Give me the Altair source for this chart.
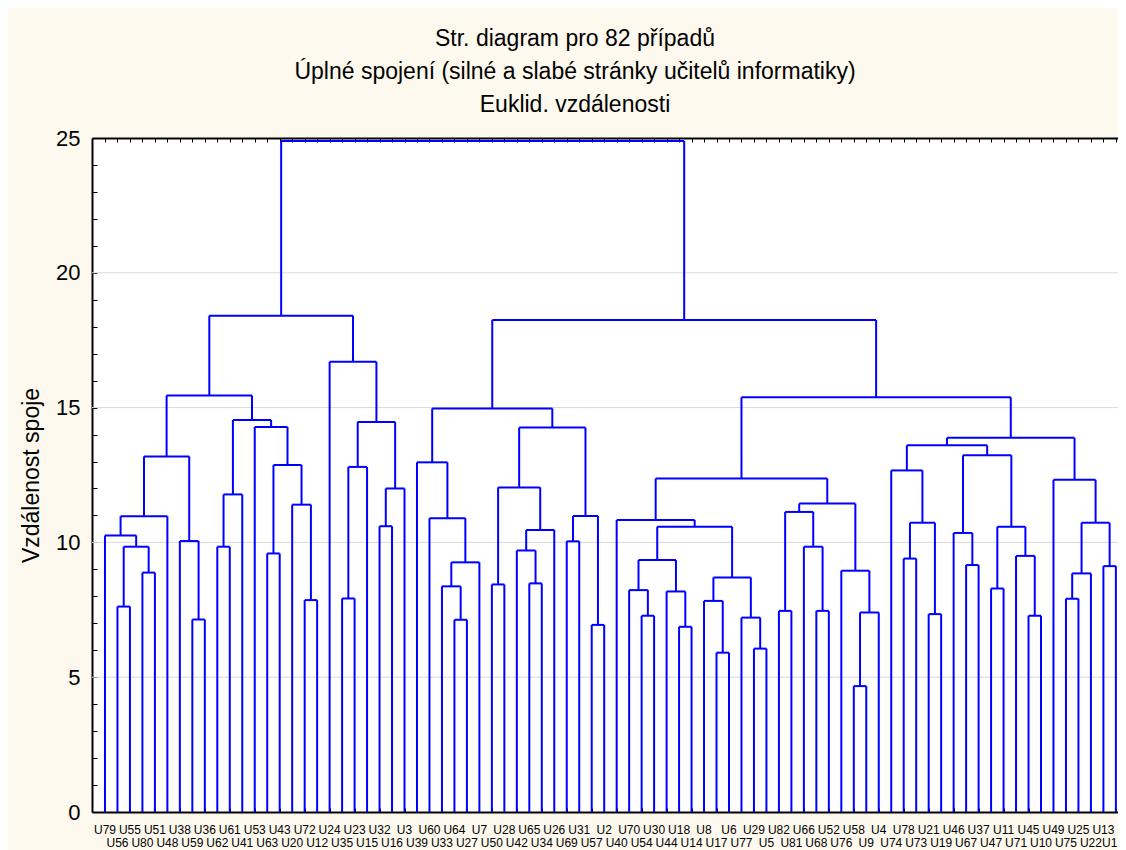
import altair as alt
import pandas as pd

# ---- data ----
leaf_order = ["U79","U56","U55","U80","U51","U48","U38","U59","U36","U62","U61","U41",
              "U53","U63","U43","U20","U72","U12","U24","U35","U23","U15","U32","U16",
              "U3","U39","U60","U33","U64","U27","U7","U50","U28","U42","U65","U34",
              "U26","U69","U31","U57","U2","U40","U70","U54","U30","U44","U18","U14",
              "U8","U17","U6","U77","U29","U5","U82","U81","U66","U68","U52","U76",
              "U58","U9","U4","U74","U78","U73","U21","U19","U46","U67","U37","U47",
              "U11","U71","U45","U10","U49","U75","U25","U22","U13","U1"]

# merges: C1..C81, each joins merge_a[i] and merge_b[i] at merge_h[i]
merge_a = ["U56","U80","C1","U79","C4","U59","U38","C5","U62","C9","U63","U72","U20","C11","U53","C10","C8",
           "U35","C18","U32","C20","C19","U24","C17",
           "U64","U33","C26","U60","U39","U50","U65","U42","C32","C30","U69","U57","C35","C34","C29",
           "U54","U70","U18","U44","C41","U17","U8","U29","U77","C46","C44","U40","U82","U68","U66","C52",
           "U58","C56","U76","C55","C51","U21","U78","C62","U74","U67","U46","U45","U71","U47","C69","C66",
           "C64","U75","C73","U13","C74","U49","C72","C60","C39","C24"]
merge_b = ["U55","U51","C2","C3","U48","U36","C6","C7","U61","U41","U43","U12","C12","C13","C14","C15","C16",
           "U23","U15","U16","U3","C21","C22","C23",
           "U27","C25","U7","C27","C28","U28","U34","C31","U26","C33","U31","U2","C36","C37","C38",
           "U30","C40","U14","C42","C43","U6","C45","U5","C47","C48","C49","C50","U81","U52","C53","C54",
           "U9","U4","C57","C58","C59","U19","U73","C61","C63","U37","C65","U10","C67","U11","C68","C70",
           "C71","U25","U22","U1","C75","C76","C77","C78","C79","C80"]
merge_h = [7.62, 8.88, 9.84, 10.26, 10.97, 7.14, 10.05, 13.19, 9.84, 11.78, 9.59, 7.86, 11.40, 12.87, 14.28, 14.54, 15.45,
           7.92, 12.80, 10.60, 12.00, 14.47, 16.70, 18.41,
           7.13, 8.37, 9.26, 10.90, 12.97, 8.44, 8.48, 9.70, 10.46, 12.04, 10.04, 6.94, 10.98, 14.26, 14.97,
           7.28, 8.23, 6.87, 8.18, 9.35, 5.91, 7.83, 6.06, 7.21, 8.70, 10.58, 10.83, 7.46, 7.46, 9.84, 11.13,
           4.67, 7.40, 8.95, 11.44, 12.37, 7.34, 9.40, 10.73, 12.67, 9.16, 10.35, 7.28, 9.50, 8.29, 10.58, 13.23,
           13.60, 7.91, 8.85, 9.12, 10.73, 12.32, 13.88, 15.38, 18.25, 24.89]

y_ticks = list(range(0, 26))
grid_values = [5, 10, 15, 20]

title_lines = ["Str. diagram pro 82 případů",
               "Úplné spojení (silné a slabé stránky učitelů informatiky)",
               "Euklid. vzdálenosti"]

# ---- build dendrogram segments from the linkage ----
pos = {name: float(i) for i, name in enumerate(leaf_order)}
hgt = {name: 0.0 for name in leaf_order}
segs = []
for i, (a, b, h) in enumerate(zip(merge_a, merge_b, merge_h)):
    cid = f"C{i + 1}"
    xa, xb = pos[a], pos[b]
    segs.append({"x": xa, "x2": xa, "y": hgt[a], "y2": h})
    segs.append({"x": xb, "x2": xb, "y": hgt[b], "y2": h})
    segs.append({"x": xa, "x2": xb, "y": h, "y2": h})
    pos[cid] = (xa + xb) / 2
    hgt[cid] = h
seg_df = pd.DataFrame(segs)

leaf_df = pd.DataFrame({"i": list(range(len(leaf_order))), "name": leaf_order})
leaf_df["row"] = leaf_df["i"] % 2
top_row = leaf_df[leaf_df["row"] == 0]
bot_row = leaf_df[leaf_df["row"] == 1]
bot_main = bot_row.iloc[:-1]
bot_last = bot_row.iloc[-1:]

FONT = "Liberation Sans"
W, H = 1026, 674
xscale = alt.Scale(domain=[-1.04, 81.17], nice=False, zero=False)
yscale = alt.Scale(domain=[0, 25], nice=False, zero=True)

axis_common = dict(domainColor="black", domainWidth=2, tickColor="black", tickWidth=1,
                   tickSize={"expr": "-4"}, grid=False)

x_bottom = alt.Axis(orient="bottom", values=list(range(82)), labels=False, title=None, **axis_common)
x_top = alt.Axis(orient="top", values=list(range(82)), labels=False, title=None, **axis_common)
y_left = alt.Axis(orient="left", values=y_ticks, title="Vzdálenost spoje",
                  labelExpr="datum.value % 5 == 0 ? datum.label : ''",
                  labelFont=FONT, labelFontSize=22, labelColor="black", labelPadding=17,
                  titleFont=FONT, titleFontSize=23, titleFontWeight="normal", titleColor="black",
                  titlePadding=12, **{**axis_common, "tickSize": {"expr": "-5"}})

grid = alt.Chart(pd.DataFrame({"v": grid_values})).mark_rule(color="#d9d9d9", strokeWidth=1).encode(
    y=alt.Y("v:Q", scale=yscale, axis=None)
)

dendro = alt.Chart(seg_df).mark_rule(color="#0000ff", strokeWidth=2).encode(
    x=alt.X("x:Q", scale=xscale, axis=x_bottom),
    x2="x2:Q",
    y=alt.Y("y:Q", scale=yscale, axis=y_left),
    y2="y2:Q",
)

labels_top = alt.Chart(top_row).mark_text(font=FONT, fontSize=12, color="black", baseline="middle").encode(
    x=alt.X("i:Q", scale=xscale, axis=x_top),
    y=alt.value(H + 18),
    text="name:N",
)
labels_bot = alt.Chart(bot_main).mark_text(font=FONT, fontSize=12, color="black", baseline="middle").encode(
    x=alt.X("i:Q", scale=xscale, axis=None),
    y=alt.value(H + 31),
    text="name:N",
)
labels_last = alt.Chart(bot_last).mark_text(font=FONT, fontSize=12, color="black", baseline="middle",
                                            align="right", dx=1.5).encode(
    x=alt.X("i:Q", scale=xscale, axis=None),
    y=alt.value(H + 31),
    text="name:N",
)

chart = alt.layer(grid, dendro, labels_top, labels_bot, labels_last).resolve_axis(
    x="independent", y="independent"
).properties(
    width=W, height=H,
    autosize=alt.AutoSizeParams(type="none"),
    padding={"left": 84, "top": 130, "right": 0, "bottom": 38},
    title=alt.TitleParams(text=title_lines, font=FONT, fontSize=23, fontWeight="normal",
                          color="black", anchor="middle", frame="group", dx=-30,
                          lineHeight=33, offset=10),
).configure(background="#fef9ef").configure_view(fill="white", strokeWidth=0)

chart.save("out.html", embed_options={"renderer": "svg", "actions": False})
